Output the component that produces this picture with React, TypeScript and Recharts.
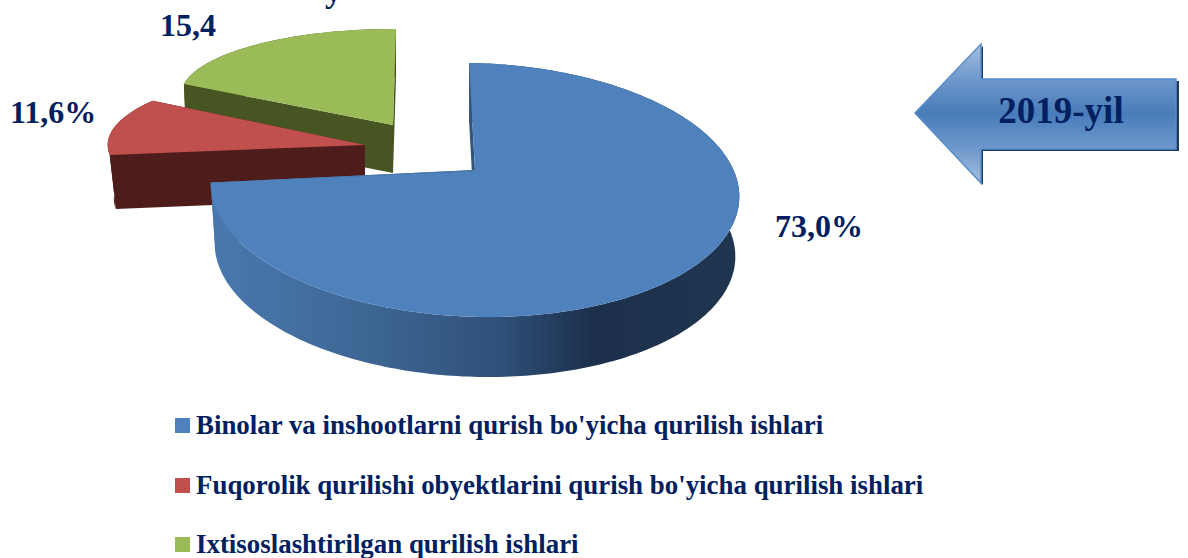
import { PieChart, Pie, Legend } from "recharts";

const categories = [
  "Binolar va inshootlarni qurish bo'yicha qurilish ishlari",
  "Fuqorolik qurilishi obyektlarini qurish bo'yicha qurilish ishlari",
  "Ixtisoslashtirilgan qurilish ishlari",
];
const shares = [73.0, 11.6, 15.4];
const shareLabels = ["73,0%", "11,6%", "15,4"];
const colors = ["#4f81bd", "#c0504d", "#9bbb59"];

const NAVY = "#002060";
const SERIF = "'Liberation Serif', serif";

// Painted back to front, so the big slice has to come last
const order = [2, 1, 0];
const pieData = order.map((i) => ({ name: categories[i], value: shares[i], fill: colors[i] }));

// How each slice is pulled out and flattened to fake the 3D look
const looks = [
  { dx: 0, dy: 0, sx: 1, sy: 0.474, k: 0.1575, rot: 0, shear: 0.025, depth: 60, conv: 0.985, wall: "url(#blueWall)", label: [775, 237] },
  { dx: -110, dy: -25, sx: 0.986, sy: 0.3, k: 0, rot: -1.4, shear: 0, depth: 54, conv: 0.976, wall: "#4f1c1c", label: [10, 123] },
  { dx: -82, dy: -45, sx: 0.727, sy: 0.203, k: -0.448, rot: -2, shear: 0, depth: 48, conv: 0.99, wall: "#465521", label: [160, 36] },
];

const toPath = (pts: number[][]) =>
  "M" + pts.map((p) => p[0].toFixed(1) + " " + p[1].toFixed(1)).join("L") + "Z";

function Slice3D(props: any) {
  const { cx, cy, outerRadius, startAngle, endAngle, name, fill } = props;
  const idx = categories.indexOf(name);
  const look = looks[idx];
  const ax = cx + look.dx;
  const ay = cy + look.dy;

  const project = (deg: number) => {
    const phi = ((deg + look.rot) * Math.PI) / 180;
    const v = Math.sin(phi);
    const den = 1 + look.k * v;
    const x = (outerRadius * look.sx * Math.cos(phi)) / den;
    return [ax + x, ay - (outerRadius * look.sy * v) / den + look.shear * x];
  };
  const drop = (p: number[]) => [ax + (p[0] - ax) * look.conv, p[1] + look.depth];

  const steps = Math.ceil(Math.abs(endAngle - startAngle));
  const rim: number[][] = [];
  for (let s = 0; s <= steps; s++) {
    rim.push(project(startAngle + ((endAngle - startAngle) * s) / steps));
  }
  const apex = [ax, ay];
  const first = rim[0];
  const last = rim[rim.length - 1];

  return (
    <g>
      {idx === 0 && (
        <defs>
          <linearGradient id="blueWall" gradientUnits="userSpaceOnUse" x1={213} y1={0} x2={739} y2={0}>
            <stop offset="0" stopColor="#4a78ae" />
            <stop offset="0.3" stopColor="#3d6694" />
            <stop offset="0.55" stopColor="#2f5079" />
            <stop offset="0.72" stopColor="#1c304c" />
            <stop offset="1" stopColor="#20354f" />
          </linearGradient>
        </defs>
      )}
      <path d={toPath([...rim, ...rim.map(drop).reverse()])} fill={look.wall} />
      <path d={toPath([apex, first, drop(first), drop(apex)])} fill={look.wall} />
      <path d={toPath([apex, last, drop(last), drop(apex)])} fill={look.wall} />
      <path d={toPath([apex, ...rim])} fill={fill} />
      {idx === 0 && (
        <path d={toPath([project(startAngle), [ax - 4, ay + 1], [ax, ay + 1]])} fill="#17375e" />
      )}
    </g>
  );
}

function sliceLabel(props: any) {
  const idx = categories.indexOf(props.name);
  return (
    <text
      x={looks[idx].label[0]}
      y={looks[idx].label[1]}
      fontFamily={SERIF}
      fontWeight="bold"
      fontSize={32}
      fill={NAVY}
    >
      {shareLabels[idx]}
    </text>
  );
}

function LegendList({ payload }: any) {
  const items = [...(payload || [])].sort(
    (a: any, b: any) => categories.indexOf(a.value) - categories.indexOf(b.value)
  );
  return (
    <div style={{ fontFamily: SERIF, fontWeight: "bold", fontSize: 26.9, color: NAVY }}>
      {items.map((it: any, i: number) => (
        <div key={i} style={{ display: "flex", alignItems: "center", height: 59.5, whiteSpace: "nowrap" }}>
          <span style={{ width: 15, height: 15, marginRight: 6, background: it.color, flex: "none" }} />
          {it.value}
        </div>
      ))}
    </div>
  );
}

function YearArrow() {
  return (
    <svg width={1188} height={558} style={{ position: "absolute", left: 0, top: 0, pointerEvents: "none" }}>
      <defs>
        <linearGradient id="arrowFill" gradientUnits="userSpaceOnUse" x1={0} y1={44} x2={0} y2={183}>
          <stop offset="0" stopColor="#a3bede" />
          <stop offset="0.25" stopColor="#6f98cc" />
          <stop offset="0.5" stopColor="#487cba" />
          <stop offset="0.75" stopColor="#6f98cc" />
          <stop offset="1" stopColor="#a3bede" />
        </linearGradient>
      </defs>
      <polygon
        points="917,115 983,46 983,81 1179,81 1179,151 983,151 983,185"
        fill="#1f3a5c"
      />
      <polygon
        points="915,113 981,44 981,79 1176,79 1176,149 981,149 981,183"
        fill="url(#arrowFill)"
        stroke="#5b8fc9"
        strokeWidth={1.5}
      />
      <text x={1061} y={123} textAnchor="middle" fontFamily={SERIF} fontWeight="bold" fontSize={37} fill={NAVY}>
        2019-yil
      </text>
      {/* tail of the title that the crop cuts off */}
      <text x={325} y={2} fontFamily={SERIF} fontWeight="bold" fontSize={34} fill={NAVY}>
        y
      </text>
    </svg>
  );
}

export default function App() {
  return (
    <div style={{ position: "absolute", left: 0, top: 0, width: 1188, height: 558, overflow: "hidden", background: "#fff" }}>
      <PieChart width={1188} height={558} margin={{ top: 0, right: 0, bottom: 0, left: 0 }}>
        <Pie
          data={pieData}
          dataKey="value"
          nameKey="name"
          cx={475}
          cy={170}
          innerRadius={0}
          outerRadius={261}
          startAngle={91.5}
          endAngle={451.5}
          stroke="none"
          shape={Slice3D}
          label={sliceLabel}
          labelLine={false}
          isAnimationActive={false}
        />
        <Legend
          content={LegendList}
          layout="vertical"
          wrapperStyle={{ position: "absolute", left: 175, top: 396, width: 900 }}
        />
      </PieChart>
      <YearArrow />
    </div>
  );
}
